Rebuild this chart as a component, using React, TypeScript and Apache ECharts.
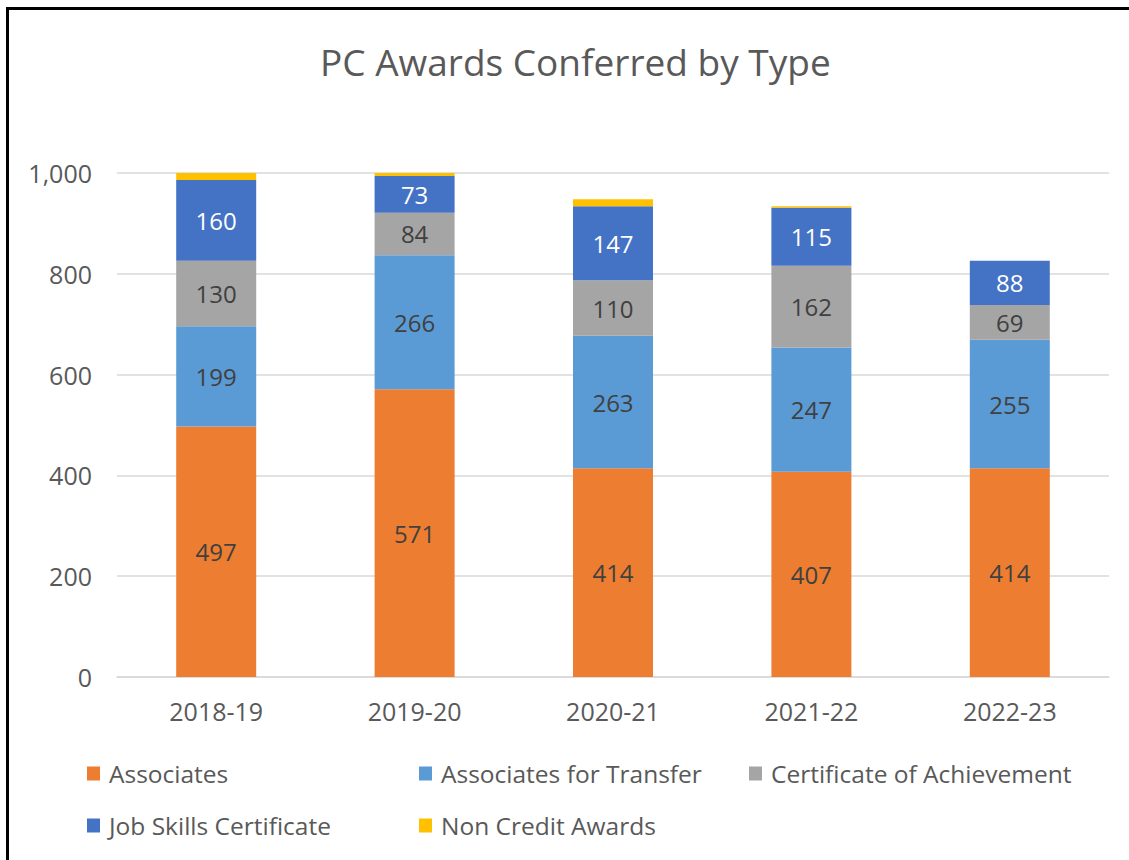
import React, { useEffect, useRef } from "react";
import * as echarts from "echarts";

const categories = ["2018-19", "2019-20", "2020-21", "2021-22", "2022-23"];
const associates = [497, 571, 414, 407, 414];
const associatesTransfer = [199, 266, 263, 247, 255];
const certAchievement = [130, 84, 110, 162, 69];
const jobSkills = [160, 73, 147, 115, 88];
const nonCredit = [14, 8, 14, 3, 0];
const yTicks = [0, 200, 400, 600, 800, 1000];

const FONT = "'Open Sans', Lato, sans-serif";

export default function App() {
  const ref = useRef<HTMLDivElement>(null);
  useEffect(() => {
    if (!ref.current) return;
    const chart = echarts.init(ref.current, undefined, { renderer: "svg" });
    const mk = (name: string, data: number[], color: string, labelColor: string, showLabel = true) => ({
      name,
      type: "bar",
      stack: "total",
      data,
      barWidth: 80,
      itemStyle: { color },
      label: {
        show: showLabel,
        position: "inside",
        color: labelColor,
        fontSize: 24,
        fontFamily: FONT,
      },
    });
    const legendPos = [
      { name: "Associates", left: 87, top: 761 },
      { name: "Associates for Transfer", left: 419, top: 761 },
      { name: "Certificate of Achievement", left: 749, top: 761 },
      { name: "Job Skills Certificate", left: 87, top: 813 },
      { name: "Non Credit Awards", left: 419, top: 813 },
    ];
    chart.setOption({
      animation: false,
      backgroundColor: "#ffffff",
      title: {
        text: "PC Awards Conferred by Type",
        left: 320,
        top: 43,
        padding: 0,
        textStyle: { fontFamily: FONT, fontSize: 37, fontWeight: "normal", color: "#595959" },
      },
      legend: legendPos.map((l) => ({
        data: [l.name],
        left: l.left,
        top: l.top,
        icon: "rect",
        itemWidth: 13,
        itemHeight: 14,
        itemGap: 0,
        padding: 0,
        textStyle: { fontFamily: FONT, fontSize: 24.5, color: "#595959", padding: [0, 0, 0, 4] },
      })),
      grid: { left: 117, right: 20, top: 173, bottom: 183, containLabel: false },
      xAxis: {
        type: "category",
        data: categories,
        axisTick: { show: false },
        axisLine: { lineStyle: { color: "#d9d9d9", width: 1.5 } },
        axisLabel: { fontFamily: FONT, fontSize: 25, color: "#595959", margin: 21 },
      },
      yAxis: {
        type: "value",
        min: yTicks[0],
        max: yTicks[yTicks.length - 1],
        interval: 200,
        axisLine: { show: false },
        axisTick: { show: false },
        splitLine: { lineStyle: { color: "#d9d9d9", width: 1.5 } },
        axisLabel: {
          fontFamily: FONT,
          fontSize: 25,
          color: "#595959",
          margin: 25,
          formatter: (v: number) => v.toLocaleString("en-US"),
        },
      },
      series: [
        mk("Associates", associates, "#ed7d31", "#404040"),
        mk("Associates for Transfer", associatesTransfer, "#5b9bd5", "#404040"),
        mk("Certificate of Achievement", certAchievement, "#a5a5a5", "#404040"),
        mk("Job Skills Certificate", jobSkills, "#4472c4", "#ffffff"),
        mk("Non Credit Awards", nonCredit, "#ffc000", "#404040", false),
      ],
      graphic: [
        {
          type: "rect",
          shape: { x: 7.5, y: 8.5, width: 1140, height: 870 },
          style: { fill: "none", stroke: "#000000", lineWidth: 3 },
          silent: true,
        },
      ],
    });
    return () => chart.dispose();
  }, []);
  return (
    <div style={{ position: "fixed", left: 0, top: 0, width: 1129, height: 860, background: "#fff" }}>
      <div ref={ref} style={{ width: 1129, height: 860 }} />
    </div>
  );
}
